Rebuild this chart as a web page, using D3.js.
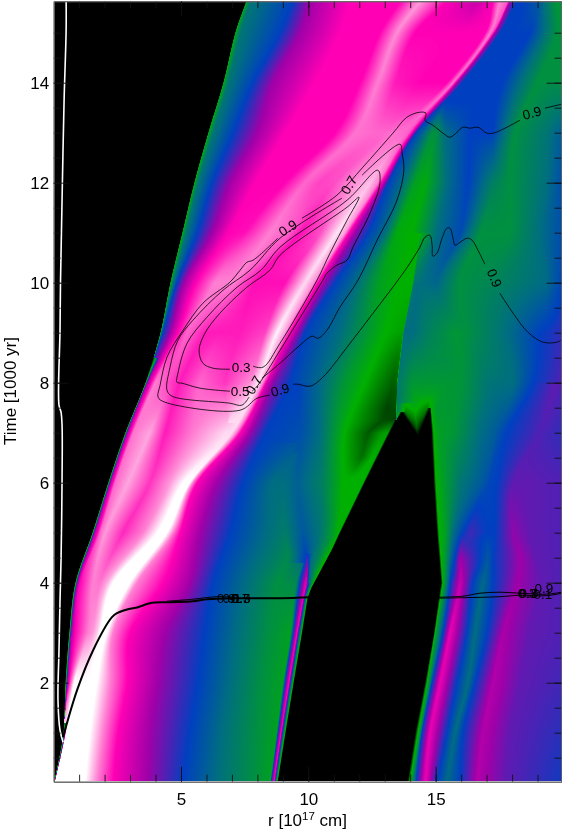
<!DOCTYPE html>
<html>
<head>
<meta charset="utf-8">
<script src="https://cdn.jsdelivr.net/npm/d3@7"></script>
<style>
html, body { margin: 0; padding: 0; background: #fff; }
#wrap { position: relative; width: 562px; height: 829px; overflow: hidden; }
#field, #chart { position: absolute; left: 0; top: 0; }
text { font-family: "Liberation Sans", Arimo, Helvetica, sans-serif; fill: #000; }
</style>
</head>
<body>
<div id="wrap">
	<canvas id="field" width="562" height="829"></canvas>
	<svg id="chart" width="562" height="829"></svg>
</div>
<script>
const WIDTH = 562;
const HEIGHT = 829;

const R_MAX = 19.94;
const T_MIN = 0.02;
const T_MAX = 15.63;

// colour level of the field: 0 white ... 4 blue ... 7 bright green ... 9 black
const level_colors = ['#ffffff', '#ff80d2', '#ff00b4', '#a000a8', '#0040c0', '#006e80', '#009040', '#00b000', '#006000', '#000000'];

// ridges of the field as [time, r] or [time, r, level]
const black_left = [[0, 0], [15.63, 0]];
const black_edge = [[15.63,7.55],[15,7.12],[14,6.65],[13,6.06],[12,5.51],[11,5.04],[10,4.57],[9,4.18],[8,3.59],[7,2.8],[6,2.13],[5,1.51],[4,.84],[3,.6],[2,.45],[1,.37],[0,.01]];
const edge_green = [[15.63,7.58],[15,7.15],[14,6.68],[13,6.09],[12,5.54],[11,5.07],[10,4.6],[9,4.21],[8.5,3.95,4]];
const edge_teal = [[15.63,7.71],[15,7.33],[14,6.85],[13,6.26],[12,5.67],[11,5.2],[10,4.69],[9,4.24,4.6],[8.5,3.97,4]];
const blue_outer = [[15.63,9.4],[15,8.89],[14,7.83],[13,7.04],[12,6.22],[11,5.63],[10,4.84],[9,4.29],[8.5,4,3.5]];
const purple_outer = [[15.63,10.06],[15,9.67],[14,8.61],[13,7.98],[12,6.92],[11,6.22],[10,5.12],[9,4.57],[8,3.67],[7,2.88],[6,2.21],[5,1.59],[4,.92,3.2],[3,.68],[2,.53],[1.5,.45]];
const magenta_outer = [[15.63,11.63,2],[15,11.24,2],[14,10.26,2],[13,9.08,2],[12,7.91,2],[11,6.85,2],[10,5.59,2],[9,4.88,2],[8,3.98,1],[7,3.12,1.1],[6,2.41,1.2],[5,1.82,1.2],[4,1.03,2],[3,.84,2],[2,.6,2],[1.2,.41,.5]];
const pale_stripe = [[15.63,13.6,2],[15,12.81,2],[14,12.03,2],[13,11.05,2],[12,9.08,2],[11,7.51,1.9],[10,6.33,1],[9,5.24,1.2],[8,4.57,1.5],[7,3.78,.7],[6,2.92,.7],[5,2.02,.8],[4,1.54,1],[3,1.35,1],[2,.8,0],[1,.49,0],[0,.05,0]];
const light_band = [[15.63,14.39,.8],[15,13.48,.9],[14,12.73,1],[13,11.83,1.1],[12,9.87,1.2],[11,8.49,1],[10,7.12,1],[9,5.94,1.8],[8,4.96,1.8],[7,4.37,1.8],[6,3.78,1.6],[5,2.72,1.7],[4,1.82,1.1],[3,1.54,.8],[2,1.03,0],[1,.72,0],[0,.25,0]];
const inner_c = [[15.63,15.44,2],[15,14.19,2],[14,13.4,1.8],[13,12.62,1.2],[12,10.46,1.5],[11,9.28,1.3],[10,7.51,1.5],[9,6.53,1.8],[8,5.75,1.2],[7,5.35,1.1],[6,4.57,.8],[5,3.51,1],[4,2.09,.7],[3,1.7,.4],[2,1.23,0],[1,.96,0],[0,.56,0]];
const inner_d = [[15.63,16.62,2.6],[15,15.96,2],[14,14.4,2],[13,13,1.2],[12,11.05,1.4],[11,9.67,1.9],[10,7.91,1.9],[9,7.32,1.8],[8,6.73,1.6],[7,6.73,.3],[6,5.08,0],[5,4.06,0],[4,2.33,0],[3,1.82,0],[2,1.43,0],[1,1.19,0],[0,.88,0]];
const inner_e = [[15.63,17.25,2],[15,16.95,2],[14,15.45,2],[13,13.4,1.1],[12,11.44,1.1],[11,10.46,1.4],[10,9.09,1.9],[9,8.3,1.5],[8,7.71,.9],[7.2,6.85,.3]];
const white_ridge = [[15.63,17.52,1],[15,17.14,1],[14,15.68,1.1],[13,13.8,1.2],[12,12.43,.5],[11,11.13,.2],[10,9.87,.3],[9,8.77,.1],[8,8.03,.2],[7,7,.3],[6,5.35,0],[5,4.45,0],[4,3,0],[3,2.09,0],[2,1.7,0],[1,1.43,0],[0,1.23,0]];
const ridge_edge = [[15.63,17.84,1.3],[15,17.25,1.6],[14,15.76,1.8],[13,13.95,1.3],[12,12.73,1],[11,11.44,.8],[10,10.22,.9],[9,9.09,.8],[8,8.22,1],[7,7.16,.9],[6,5.47,1],[5,4.69,1],[4,3.27,1],[3,2.33,1],[2,2.21,1],[1,1.94,1],[0,1.7,1]];
const magenta_inner = [[15.63,17.92,3],[15,17.33,3],[14,15.84,3],[13,14.07,2],[12,12.93,2.5],[11,11.6,2],[10,10.38,2],[9,9.28,2],[8,8.38,2.5],[7,7.32,2],[6,5.63,2],[5,4.96,2],[4,4.29,2],[3,2.99,2],[2,2.88,2],[1,2.53,2],[0,2.33,2]];
const purple_inner = [[15.63,18.08,3.6],[15,17.45,3.5],[14,15.96,3.5],[13,14.15],[12,13.01],[11,11.83],[10,10.62],[9,9.56],[8,8.69,3.3],[7,7.71],[6,6.41],[5,5.75],[4,5.35],[3,4.37],[2,4.06],[1,3.78],[0,3.67]];
const blue_main = [[15.63,18.16],[15,17.52],[14,16.03],[13,14.23],[12,13.13],[11,12.34],[10,11.05],[9,9.87],[8,9.28],[7,8.3],[6,7.44],[5,6.93],[4,6.26],[3,5.94],[2,5.67],[1,5.35],[0,5.08]];
const teal_low = [[6.8,9.52,4.5],[6,8.61],[5,8.38],[4,7.59],[3,7.2],[2,6.93],[1,6.61],[0,6.41]];
const green_low = [[6.6,9.56,4.7],[6,9.08,5],[5,9.08,5.4],[4.5,9.2,5.8],[4,8.81],[3,8.49],[2,8.18],[1,8.02],[0,7.91]];
const lime_sliver = [[4.4,9.79,5],[4,9.52,5.8],[3,9.3],[2,9],[1,8.75],[0,8.5]];
const blue_sliver = [[8,9.6],[7,9.67,4.3],[6,9.6,4.7],[5,9.79,4.5],[4.5,9.87],[4,9.67],[3,9.4],[2,9.08],[1,8.81],[0,8.53]];
const magenta_sliver = [[4.6,9.95,4],[4.3,9.97,3],[4,9.91,2.2],[3,9.56],[2,9.24],[1,8.93],[0,8.65]];
const teal_main = [[13.6,15.29,4],[13,14.58],[12,13.72],[11,13.01],[10,11.91],[9,11.24],[8,10.58],[7,10.46],[6,10.54,5.5],[5,10.46,5.2],[4.4,10.1],[4,10,4.5]];
const green_main = [[13.6,15.31,4],[13,14.85,6],[12,14.19,6.5],[11,13.48,6.8],[10,12.81,6.5],[9,12.3,6.2],[8,11.44,6.2],[7,11.05,6.2],[6,10.85,6],[5,10.93,6.3],[4.5,10.45,5.8],[4.2,10.2,5.8]];
const bright_green = [[13.6,15.33,4],[13,15.01,6],[12,14.58,6.8],[11,14.07],[10,13.6],[9,13.01],[8,12.22],[7,11.44],[6,11.36],[5,11.12,6.9],[4.7,10.77,6.5],[4.4,10.5,6.5]];
const dark_blob = [[6.1,11.63,7],[6.5,12.1,7.8],[7,12.34,8.1],[7.25,12.89,8.2],[7.5,13.09,8.3],[8,13.28,8],[8.5,13.48,7.7],[9,13.6,7.2]];
const dark_edge = [[6.1,11.95,7],[6.5,12.5,7],[7,12.89,7.3],[7.25,13.3,8.2]];
const lime_edge = [[0,8.77],[1,9.08],[2,9.4],[3,9.73],[3.7,9.95],[3.9,10.1],[4.65,10.89],[5,11.2],[6,12.15],[7,13.12,7.2],[7.25,13.38,8.2]];
const black_core_left = [[0,8.81],[1,9.12],[2,9.44],[3,9.77],[3.7,9.99],[3.9,10.14],[4.65,10.93],[5,11.26],[6,12.22],[7,13.2],[7.25,13.45],[7.41,13.68]];
const shock_left = [[7.25,13.44,8.3],[8,13.47,8],[9,13.71,7.2],[10,14.1,7],[11,14.38,7]];
const shock_right = [[7.25,13.46,5.2],[8,13.51,5.3],[9,13.75,5],[10,14.14,5.2],[11,14.42,6.8]];
const notch_left = [[6.95,14.29],[7.41,13.68]];
const notch_glow_left = [[6.95,14.295,9],[7.2,14.05,8.3],[7.41,13.82,7.6],[7.6,13.8,6.8]];
const notch_mid = [[6.95,14.3,9],[7.1,14.26,8],[7.25,14.23,7.5],[7.5,14.19,6.8],[8,14.11,6.2],[9,14.11,5],[10,14.3,5]];
const notch_glow_right = [[6.95,14.31,9],[7.2,14.42,8.3],[7.49,14.66,7.6],[7.8,14.84,6.4]];
const notch_right = [[6.95,14.32],[7.49,14.78]];
const black_core_right = [[0,13.89],[1,14.2],[2,14.58],[3,14.93],[3.6,15.09],[4,15.21],[4.4,15.15],[5,15.05],[6,14.93],[7,14.84],[7.49,14.78]];
const right_a = [[0,13.99],[1,14.3],[2,14.66],[3,14.97],[4,15.28],[5,15.13],[6,15.01],[7,14.92],[7.49,14.82],[8,14.89,6.2],[9,14.66,5.5],[10,14.5,5],[11,15.05,5],[12,15.44,5],[13,15.37,5],[13.6,15.41,4]];
const right_a2 = [[0,14.07],[1,14.38],[2,14.74],[3,15.05],[4,15.37],[5,15.37,6.5],[6,15.25,6.5],[7,15.09,6.5],[7.49,15.01,6.3],[8,15.6,6.2],[8.5,15.3,5.9]];
const right_b = [[0,14.23],[1,14.46],[2,14.86],[3,15.29],[4,15.56],[4.5,15.56,5],[5,15.68,5],[6,15.96,5.2],[7,15.68,6.2],[8,16,6.1],[9,15.8,6.2],[10,15.05,4.8],[11,15.96,4.2],[12,16.27],[13,16.35],[14,16.74],[15,18.04],[15.63,18.5]];
const right_c = [[0,14.58,2.2],[1,14.78,2.2],[2,15.17,2.2],[3,15.56,2.2],[4,15.96,2.6],[4.5,15.96,3],[5,16.07],[6,16.74,4.6],[7,16.74,5],[8,17.01,5.2],[9,16.23,6],[10,15.96,6],[11,16.74,6],[12,17.25,5.5],[13,17.25],[14,17.64],[15,18.71],[15.63,19.1,4.6]];
const right_d = [[0,15.05],[1,15.45],[2,15.84],[3,16.23],[4,16.47],[4.5,16.74],[5,16.35,3.6],[6,16.93,4.4],[7,17.33,4.6],[8,17.41,5.1]];
const right_e = [[0,15.44,4.9],[1,15.76,5],[2,16.27,5],[3,16.54,5],[4,16.86,4.9],[4.5,17.05,4.5],[5,17.01,4],[6,17.13,4.1],[7,17.52,4.3],[8,18.04,5],[9,17.8,5],[10,17.41,5.6],[11,17.92,6],[12,17.92,6],[13,18.11,6],[14,18.98,6],[15,19.76,6],[15.63,19.76,6.2]];
const right_f = [[0,15.95],[1,16.07],[2,16.54],[3,17.01],[4,17.25],[4.5,17.25],[5,17.33],[6,17.41],[7,17.8],[8,18.82],[9,19.1],[10,19.37,4.9],[11,19.1,5],[12,19.37,5],[13,19.37,5.2],[14,19.69,5.8]];
const right_g = [[0,16.62,2.8],[1,16.86,2.8],[2,17.25,2.8],[3,17.64,2.9],[4,18.19,3],[4.5,18.31,3],[5,18.04,3.1],[6,18.04,3.4],[7,19.1,3.5],[8,19.69,3.4]];
const right_h = [[0,17.72],[1,17.92],[2,18.31],[3,18.7],[4,19.1],[5,18.71],[6,18.71],[7,19.49,3.6]];
const right_rim = [[0,19.94,3.9],[1,19.94,3.75],[2,19.94,3.6],[3,19.94,3.5],[4,19.94,3.5],[5,19.94,3.5],[6,19.94,3.5],[7,19.94,3.7],[8,19.94,3.5],[9,19.94,3.7],[10,19.94,4.1],[11,19.94,4.3],[12,19.94,4.3],[13,19.94,4.6],[14,19.94,6],[15,19.94,6],[15.63,19.94,6]];

// default level of each ridge and the ridge itself
const ridges = [
	[9, black_left], [9, black_edge], [6.5, edge_green], [5.2, edge_teal], [4, blue_outer], [3, purple_outer],
	[2, magenta_outer], [2, pale_stripe], [1, light_band], [1, inner_c], [1, inner_d], [1, inner_e],
	[0, white_ridge], [1, ridge_edge], [2, magenta_inner], [3, purple_inner], [4, blue_main],
	[5, teal_low], [6, green_low], [6.5, lime_sliver], [4, blue_sliver], [2, magenta_sliver],
	[5, teal_main], [6, green_main], [7, bright_green], [8, dark_blob], [7, dark_edge], [7, lime_edge], [9, black_core_left],
	[8, shock_left], [5, shock_right], [9, notch_left], [8, notch_glow_left], [7, notch_mid], [8, notch_glow_right], [9, notch_right], [9, black_core_right],
	[7, right_a], [6, right_a2], [4, right_b], [4, right_c], [4, right_d], [5, right_e], [4, right_f], [3, right_g], [3.4, right_h], [4, right_rim]
];

// these have real corners, the rest are bent smoothly through their points
const cornered = [black_core_left, black_core_right, lime_edge, right_a, right_a2, notch_left, notch_right, notch_mid, notch_glow_left, notch_glow_right, dark_blob, dark_edge, shock_left, shock_right];

// contours of the overlay, [r, time]
const contour_03 = [[6.92,8.27],[6.26,8.29],[5.86,8.39],[5.71,8.65],[5.94,8.99],[6.53,9.39],[7.59,9.91],[8.49,10.25],[8.89,10.55],[11.52,11.51],[11.99,11.71],[11.52,11.25],[10.85,10.59],[10.34,10.05],[8.89,8.79],[8.22,8.31],[7.83,8.33]];
const contour_05 = [[6.92,7.83],[5.75,7.89],[5.04,7.99],[4.84,8.01],[4.88,8.19],[5.24,8.79],[6.02,9.31],[7.2,9.91],[8.14,10.25],[8.89,10.71],[11.52,11.65],[12.73,12.25],[12.81,11.99],[12.42,11.39],[11.75,10.71],[11.52,10.45],[11.12,10.35],[10.73,10.19],[10.57,10.05],[8.89,8.65],[8.02,7.95],[7.79,7.83]];
const contour_07a = [[11.32,11.69],[8.89,10.89],[7.71,10.25],[6.65,9.85],[5.47,9.25],[4.88,8.85],[4.57,8.31],[4.45,7.85],[4.65,7.73],[6.92,7.59],[7.39,7.55],[7.67,7.71]];
const contour_07b = [[12.11,12.15],[13.6,12.77],[13.68,12.59],[13.75,12.25],[13.48,11.65],[12.7,10.85],[11.95,10.05],[11.24,9.51],[10.73,9.05],[10.38,8.89],[10.15,8.93],[9.67,8.75],[8.89,8.39],[8.18,8.09]];
const contour_09a = [[19.94,13.57],[19.29,13.49]];
const contour_09b = [[18.31,13.25],[17.64,13.07],[17.25,12.99],[17.01,12.99],[16.66,13.11],[16.35,13.09],[16.07,13.11],[15.84,13.01],[15.56,12.91],[15.29,12.99],[14.89,13.15],[14.58,13.25],[14.62,13.39],[14.38,13.41],[13.87,13.31],[13.32,12.99],[12.14,12.31],[11.12,11.75],[9.75,11.29]];
const contour_09c = [[8.8,10.89],[7.83,10.45],[7.59,10.41],[7.32,10.25],[6.92,10.01],[5.86,9.59],[5.08,9.05],[4.45,8.51],[4.18,7.95],[4.1,7.71],[4.37,7.61],[7.32,7.45],[7.99,7.69],[8.49,7.75]];
const contour_09d = [[9.4,7.97],[9.59,7.97],[10.07,7.93],[10.57,8.11],[11.52,8.71],[12.54,9.39],[13.52,10.05],[13.99,10.39],[14.38,10.71],[14.58,10.91],[14.77,10.95],[14.86,10.75],[14.89,10.53],[15.05,10.59],[15.25,10.89],[15.44,11.09],[15.56,11.09],[15.68,10.89],[15.76,10.75],[15.96,10.81],[16.23,10.89],[16.43,10.85],[16.66,10.65],[16.93,10.37]];
const contour_09e = [[17.52,9.79],[18.04,9.39],[18.62,9.01],[19.22,8.81],[19.76,8.81],[19.91,8.85]];
const thin_contours = [contour_03, contour_05, contour_07a, contour_07b, contour_09a, contour_09b, contour_09c, contour_09d, contour_09e];

// the contours all pile up along the front near 3.7
const pile_left = [[.37,.91],[.92,1.85],[1.55,2.65],[2.29,3.31],[2.49,3.39],[2.92,3.47],[3.31,3.51],[3.78,3.59],[4.45,3.61],[5.47,3.63],[6.02,3.67],[7.04,3.69],[8.89,3.69],[10.07,3.71]];
const pile_left_upper = [[4.45,3.63],[5.47,3.67],[6.4,3.72],[7.04,3.71]];
const pile_right = [[15.1,3.71],[16.07,3.73],[16.74,3.79],[17.52,3.81],[18.31,3.79],[19.37,3.77],[19.94,3.81]];
const pile_right_lower = [[15.1,3.69],[16.07,3.7],[17.52,3.72],[18.31,3.75],[19.37,3.74],[19.94,3.79]];

const white_line = [[.49,15.63],[.49,15.05],[.41,13.65],[.33,11.65],[.27,10.05],[.25,9.05],[.21,7.55],[.29,7.41],[.33,7.15],[.33,6.05],[.29,4.45],[.25,3.65],[.21,2.65],[.17,1.65],[.25,1.05],[.37,.81]];

// contour labels: text, r, time, rotation
const contour_labels = [
	['0.3',7.36,8.31,0], ['0.5',7.32,7.83,0], ['0.7',7.87,7.95,-60], ['0.7',11.6,11.95,-60],
	['0.9',9.2,11.09,-33], ['0.9',8.89,7.85,-15], ['0.9',18.78,13.39,-15], ['0.9',17.3,10.09,68],
	['0.9',6.77,3.69,0], ['0.1',7,3.69,0], ['0.3',7.36,3.69,0], ['0.5',7.36,3.69,0], ['0.7',7.32,3.69,0],
	['0.3',18.59,3.79,0], ['0.5',18.66,3.79,0], ['0.7',18.62,3.79,0], ['0.9',19.25,3.88,0], ['0.1',19.21,3.77,0]
];

const r_minor = d3.range(1, 20);
const r_major = [5, 10, 15];
const t_minor = d3.range(0.5, 15.5, 0.5);
const t_major = [2, 4, 6, 8, 10, 12, 14];

const x = d3.scaleLinear().domain([0, R_MAX]).range([53.65, 561.5]);
const y = d3.scaleLinear().domain([T_MIN, T_MAX]).range([781.7, 1.2]);

const level = d3.scaleLinear().domain(d3.range(10)).range(level_colors);
const level_lut = d3.range(0, 901).map(i => d3.rgb(level(i / 100)));

// bends a ridge through its points so the bands don't kink at every row
const smoothRidge = (ts, rs) => {
	const n = ts.length;
	const m = ts.map((d, i) => (rs[Math.min(i + 1, n - 1)] - rs[Math.max(i - 1, 0)]) / (ts[Math.min(i + 1, n - 1)] - ts[Math.max(i - 1, 0)]));
	return t => {
		const i = Math.max(0, Math.min(n - 2, d3.bisectRight(ts, t) - 1));
		const h = ts[i + 1] - ts[i];
		const u = (t - ts[i]) / h;
		return (2*u*u*u - 3*u*u + 1) * rs[i] + (u*u*u - 2*u*u + u) * h * m[i]
			+ (-2*u*u*u + 3*u*u) * rs[i + 1] + (u*u*u - u*u) * h * m[i + 1];
	};
};

const drawField = () => {
	const ctx = document.querySelector('#field').getContext('2d');
	const x0 = Math.floor(x.range()[0]) + 1;
	const x1 = Math.ceil(x.range()[1]);
	const y0 = Math.ceil(y.range()[1]);
	const y1 = Math.floor(y.range()[0]);
	const img = ctx.createImageData(x1 - x0, y1 - y0);

	const tracks = ridges.map(([v, pts]) => {
		const sorted = pts.slice().sort((a, b) => a[0] - b[0]);
		const ts = sorted.map(d => d[0]);
		const rs = sorted.map(d => d[1]);
		return {
			from: ts[0],
			to: ts[ts.length - 1],
			r: cornered.includes(pts) || ts.length < 4 ? d3.scaleLinear().domain(ts).range(rs) : smoothRidge(ts, rs),
			v: d3.scaleLinear().domain(ts).range(sorted.map(d => d.length > 2 ? d[2] : v))
		};
	});

	let n = 0;
	for (let py = y0; py < y1; py++) {
		const t = y.invert(py + 0.5);
		const stops = tracks
			.filter(d => t >= d.from && t <= d.to)
			.map(d => [d.r(t), d.v(t)])
			.sort((a, b) => a[0] - b[0]);
		let k = 0;
		for (let px = x0; px < x1; px++) {
			const r = x.invert(px + 0.5);
			while (k < stops.length - 2 && stops[k + 1][0] < r) k++;
			const a = stops[k];
			const b = stops[k + 1];
			const f = b[0] > a[0] ? Math.max(0, Math.min(1, (r - a[0]) / (b[0] - a[0]))) : 1;
			const c = level_lut[Math.round((a[1] + (b[1] - a[1]) * f) * 100)];
			img.data[n++] = c.r;
			img.data[n++] = c.g;
			img.data[n++] = c.b;
			img.data[n++] = 255;
		}
	}
	ctx.putImageData(img, x0, y0);
};

const drawOverlay = () => {
	const svg = d3.select('#chart');

	const path = d3.line().x(d => x(d[0])).y(d => y(d[1])).curve(d3.curveCatmullRom.alpha(0.5));

	svg.append('path')
		.attr('d', path(white_line))
		.attr('fill', 'none')
		.attr('stroke', '#fff')
		.attr('stroke-width', 1.6);

	svg.append('g').selectAll('path')
		.data(thin_contours)
		.enter().append('path')
		.attr('d', path)
		.attr('fill', 'none')
		.attr('stroke', '#000')
		.attr('stroke-width', 0.8);

	svg.append('g').selectAll('path')
		.data([pile_left, pile_left_upper, pile_right, pile_right_lower])
		.enter().append('path')
		.attr('d', path)
		.attr('fill', 'none')
		.attr('stroke', '#000')
		.attr('stroke-width', (d, i) => i === 0 ? 2 : 1);

	svg.append('g').selectAll('text')
		.data(contour_labels)
		.enter().append('text')
		.attr('text-anchor', 'middle')
		.attr('dominant-baseline', 'central')
		.attr('font-size', 13.5)
		.attr('transform', d => `translate(${x(d[1])},${y(d[2])}) rotate(${d[3]})`)
		.text(d => d[0]);

	const axes = [
		[d3.axisBottom(x), r_minor, r_major, `translate(0,${y(T_MIN)})`],
		[d3.axisTop(x), r_minor, r_major, `translate(0,${y(T_MAX)})`],
		[d3.axisLeft(y), t_minor, t_major, `translate(${x(0)},0)`],
		[d3.axisRight(y), t_minor, t_major, `translate(${x(R_MAX)},0)`]
	];
	axes.forEach(([axis, minor, major, pos]) => {
		[[minor, -7], [major, -15]].forEach(([values, size]) => {
			const g = svg.append('g')
				.attr('transform', pos)
				.call(axis.tickValues(values).tickSizeInner(size).tickSizeOuter(0).tickFormat(''));
			g.selectAll('line').attr('stroke', '#111').attr('stroke-width', 0.9);
			g.select('.domain').attr('stroke', '#666');
		});
	});

	const x_labels = svg.append('g')
		.attr('transform', `translate(0,${y(T_MIN)})`)
		.call(d3.axisBottom(x).tickValues(r_major).tickSize(0).tickPadding(11.5).tickFormat(d3.format('d')));
	x_labels.select('.domain').remove();

	const y_labels = svg.append('g')
		.attr('transform', `translate(${x(0)},0)`)
		.call(d3.axisLeft(y).tickValues(t_major).tickSize(0).tickPadding(4.5).tickFormat(d3.format('d')));
	y_labels.select('.domain').remove();

	svg.selectAll('.tick text').attr('font-family', null).attr('font-size', 17);

	const r_title = svg.append('text')
		.attr('x', 307.5)
		.attr('y', 825.5)
		.attr('text-anchor', 'middle')
		.attr('font-size', 17);
	r_title.append('tspan').text('r [10');
	r_title.append('tspan').attr('dy', -6).attr('font-size', 11.5).text('17');
	r_title.append('tspan').attr('dy', 6).text(' cm]');

	svg.append('text')
		.attr('transform', 'translate(15.5,391) rotate(-90)')
		.attr('text-anchor', 'middle')
		.attr('font-size', 17)
		.text('Time [1000 yr]');
};

drawField();
drawOverlay();
</script>
</body>
</html>
